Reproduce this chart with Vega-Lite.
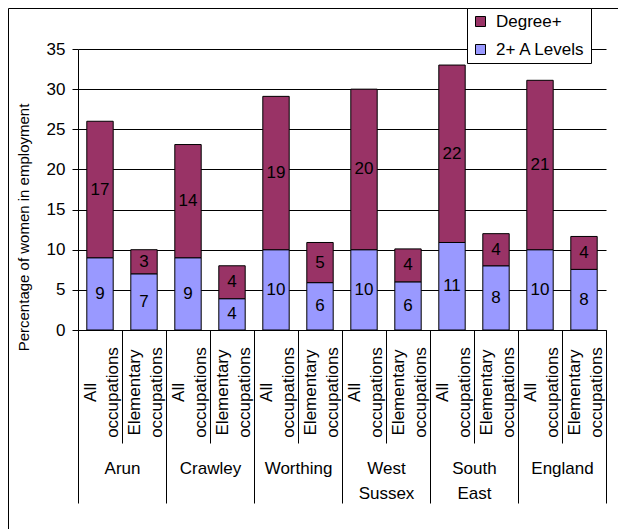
{
  "$schema": "https://vega.github.io/schema/vega-lite/v6.json",
  "width": 610,
  "height": 521,
  "autosize": {"type": "none"},
  "padding": {"left": 8, "top": 8, "right": 0, "bottom": 0},
  "background": "white",
  "config": {
    "font": "Liberation Sans",
    "view": {"stroke": "#000", "strokeWidth": 1},
    "axis": {"labelFont": "Liberation Sans", "titleFont": "Liberation Sans", "labelColor": "#000", "titleColor": "#000", "domainColor": "#000", "tickColor": "#000", "labelFontSize": 17},
    "legend": {"labelFont": "Liberation Sans"}
  },
  "data": {
    "values": [
      {"region": "Arun", "key": "Arun: All occupations", "series": "2+ A Levels", "v": 9},
      {"region": "Arun", "key": "Arun: All occupations", "series": "Degree+", "v": 17},
      {"region": "Arun", "key": "Arun: Elementary occupations", "series": "2+ A Levels", "v": 7},
      {"region": "Arun", "key": "Arun: Elementary occupations", "series": "Degree+", "v": 3},
      {"region": "Crawley", "key": "Crawley: All occupations", "series": "2+ A Levels", "v": 9},
      {"region": "Crawley", "key": "Crawley: All occupations", "series": "Degree+", "v": 14.1},
      {"region": "Crawley", "key": "Crawley: Elementary occupations", "series": "2+ A Levels", "v": 3.9},
      {"region": "Crawley", "key": "Crawley: Elementary occupations", "series": "Degree+", "v": 4.1},
      {"region": "Worthing", "key": "Worthing: All occupations", "series": "2+ A Levels", "v": 10},
      {"region": "Worthing", "key": "Worthing: All occupations", "series": "Degree+", "v": 19.1},
      {"region": "Worthing", "key": "Worthing: Elementary occupations", "series": "2+ A Levels", "v": 5.9},
      {"region": "Worthing", "key": "Worthing: Elementary occupations", "series": "Degree+", "v": 5},
      {"region": "West Sussex", "key": "West Sussex: All occupations", "series": "2+ A Levels", "v": 10},
      {"region": "West Sussex", "key": "West Sussex: All occupations", "series": "Degree+", "v": 20},
      {"region": "West Sussex", "key": "West Sussex: Elementary occupations", "series": "2+ A Levels", "v": 6},
      {"region": "West Sussex", "key": "West Sussex: Elementary occupations", "series": "Degree+", "v": 4.1},
      {"region": "South East", "key": "South East: All occupations", "series": "2+ A Levels", "v": 10.9},
      {"region": "South East", "key": "South East: All occupations", "series": "Degree+", "v": 22.1},
      {"region": "South East", "key": "South East: Elementary occupations", "series": "2+ A Levels", "v": 8},
      {"region": "South East", "key": "South East: Elementary occupations", "series": "Degree+", "v": 4},
      {"region": "England", "key": "England: All occupations", "series": "2+ A Levels", "v": 10},
      {"region": "England", "key": "England: All occupations", "series": "Degree+", "v": 21.1},
      {"region": "England", "key": "England: Elementary occupations", "series": "2+ A Levels", "v": 7.55},
      {"region": "England", "key": "England: Elementary occupations", "series": "Degree+", "v": 4.1}
    ]
  },
  "layer": [
    {
      "layer": [
        {
          "mark": {"type": "bar", "stroke": "#000", "strokeWidth": 1},
          "encoding": {
            "x": {
              "field": "key", "type": "nominal",
              "sort": ["Arun: All occupations", "Arun: Elementary occupations", "Crawley: All occupations", "Crawley: Elementary occupations", "Worthing: All occupations", "Worthing: Elementary occupations", "West Sussex: All occupations", "West Sussex: Elementary occupations", "South East: All occupations", "South East: Elementary occupations", "England: All occupations", "England: Elementary occupations"],
              "scale": {"type": "band", "range": [70, 598], "paddingInner": 0.4, "paddingOuter": 0.2},
              "axis": {"orient": "bottom", "offset": -199, "title": null, "domain": true, "ticks": false, "labelAngle": -90, "labelAlign": "center", "labelBaseline": "bottom", "labelPadding": 62, "labelFontSize": 17, "labelLineHeight": 22, "labelExpr": "isString(datum.value) ? split(split(datum.value, ': ')[1], ' ') : ''", "labelOverlap": false, "labelBound": false, "labelLimit": 0, "grid": false}
            },
            "y": {
              "field": "v", "type": "quantitative", "stack": "zero",
              "scale": {"domain": [0, 35], "range": [322, 41], "nice": false, "zero": true},
              "axis": {"orient": "left", "offset": -70, "values": [0, 5, 10, 15, 20, 25, 30, 35], "grid": false, "domain": true, "ticks": true, "tickSize": 6, "labelPadding": 7, "labelFontSize": 17, "title": "Percentage of women in employment", "titleFontSize": 15, "titleFontWeight": "normal", "titleAngle": 270, "titleAlign": "center", "titleBaseline": "middle", "titleX": -55, "titleY": 219}
            },
            "color": {
              "field": "series", "type": "nominal",
              "scale": {"domain": ["Degree+", "2+ A Levels"], "range": ["#993366", "#9999FF"]},
              "legend": {"title": null, "orient": "none", "legendX": 459, "legendY": 0, "fillColor": "#fff", "strokeColor": "#000", "padding": 5, "symbolType": "square", "symbolSize": 100, "symbolStrokeColor": "#000", "symbolStrokeWidth": 1, "symbolOpacity": 1, "labelFontSize": 17, "labelColor": "#000", "labelOffset": 7, "rowPadding": 10}
            },
            "order": {"field": "series", "sort": "ascending"}
          }
        },
        {
          "transform": [
            {"stack": "v", "groupby": ["key"], "sort": [{"field": "series", "order": "ascending"}], "as": ["v0", "v1"]},
            {"fold": ["v0", "v1"], "as": ["edge", "ev"]},
            {"aggregate": [{"op": "mean", "field": "ev", "as": "mid"}], "groupby": ["key", "series", "v"]}
          ],
          "mark": {"type": "text", "fontSize": 17, "color": "#000", "baseline": "middle", "align": "center"},
          "encoding": {
            "x": {"field": "key", "type": "nominal", "sort": ["Arun: All occupations", "Arun: Elementary occupations", "Crawley: All occupations", "Crawley: Elementary occupations", "Worthing: All occupations", "Worthing: Elementary occupations", "West Sussex: All occupations", "West Sussex: Elementary occupations", "South East: All occupations", "South East: Elementary occupations", "England: All occupations", "England: Elementary occupations"]},
            "y": {"field": "mid", "type": "quantitative"},
            "text": {"field": "v", "type": "quantitative", "format": ".0f"}
          }
        }
      ]
    },
    {
      "mark": {"type": "point", "opacity": 0},
      "encoding": {
        "x": {
          "field": "key", "type": "nominal",
          "sort": ["Arun: All occupations", "Arun: Elementary occupations", "Crawley: All occupations", "Crawley: Elementary occupations", "Worthing: All occupations", "Worthing: Elementary occupations", "West Sussex: All occupations", "West Sussex: Elementary occupations", "South East: All occupations", "South East: Elementary occupations", "England: All occupations", "England: Elementary occupations"],
          "scale": {"type": "band", "range": [70, 598], "paddingInner": 0, "paddingOuter": 0},
          "axis": {"orient": "bottom", "offset": -199, "title": null, "domain": false, "labels": false, "ticks": true, "tickBand": "extent", "tickSize": 113, "grid": false}
        },
        "y": {"field": "v", "type": "quantitative", "axis": null}
      }
    },
    {
      "mark": {"type": "point", "opacity": 0},
      "encoding": {
        "x": {
          "field": "region", "type": "nominal",
          "sort": ["Arun", "Crawley", "Worthing", "West Sussex", "South East", "England"],
          "scale": {"type": "band", "range": [70, 598], "paddingInner": 0, "paddingOuter": 0},
          "axis": {"orient": "bottom", "offset": -199, "title": null, "domain": false, "ticks": true, "tickBand": "extent", "tickSize": 173, "labelAngle": 0, "labelAlign": "center", "labelBaseline": "top", "labelPadding": -43, "labelFontSize": 17, "labelLineHeight": 25, "labelExpr": "isString(datum.value) ? split(datum.value, ' ') : ''", "labelOverlap": false, "labelBound": false, "grid": false}
        },
        "y": {
          "field": "v", "type": "quantitative",
          "axis": {"orient": "left", "offset": -70, "values": [5, 10, 15, 20, 25, 30, 35], "grid": false, "domain": false, "labels": false, "ticks": true, "tickSize": -528, "title": null}
        }
      }
    }
  ],
  "resolve": {"scale": {"x": "independent"}, "axis": {"x": "independent", "y": "independent"}}
}
